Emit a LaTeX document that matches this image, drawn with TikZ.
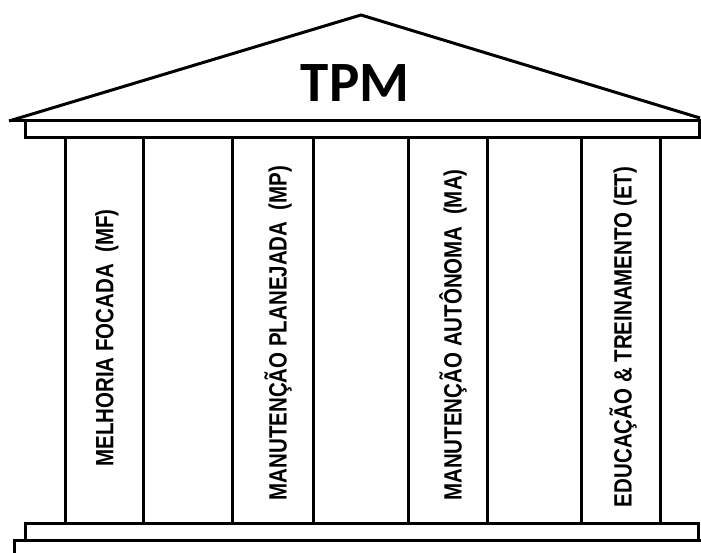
\documentclass[tikz,border=0pt]{standalone}
\usepackage{fontspec}
\usepackage{tikz}
\newfontfamily\pillarfont[FakeStretch=0.82]{Liberation Sans}
\newfontfamily\rooffont{Carlito}

\begin{document}
\begin{tikzpicture}[x=1pt,y=-1pt,line width=3pt,line join=miter,
  pillar/.style={rotate=90,inner sep=0pt,font=\pillarfont\bfseries\fontsize{25}{25}\selectfont}]
 \useasboundingbox (0,0) rectangle (701,553);
 % roof
 \draw (9,121) -- (361,15) -- (700,118);
 \draw (9,121) -- (699,121);
 \draw (25,121) rectangle (699,138);
 \node[inner sep=0pt,font=\rooffont\bfseries\fontsize{57}{57}\selectfont] (tpm) at (355,83) {TPM};

 % pillars
 \draw (65,138) rectangle (143,523);
 \draw (232,138) rectangle (313,523);
 \draw (408,138) rectangle (487,523);
 \draw (581,138) rectangle (660,523);

 \node[pillar] (mf) at (107,338) {MELHORIA FOCADA\ \ (MF)};
 \node[pillar] (mp) at (278,333) {MANUTENÇÃO PLANEJADA\ \ (MP)};
 \node[pillar] (ma) at (453,335) {MANUTENÇÃO AUTÔNOMA\ \ (MA)};
 \node[pillar] (et) at (623,337) {EDUCAÇÃO \& TREINAMENTO (ET)};

 % base
 \draw (25,523) rectangle (698,540);
 \draw (14,560) -- (14,540) -- (710,540);
\end{tikzpicture}
\end{document}
